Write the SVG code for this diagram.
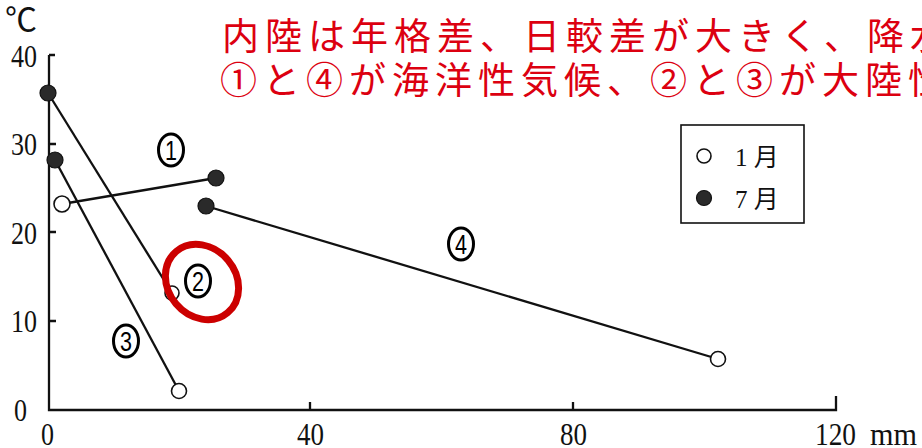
<svg xmlns="http://www.w3.org/2000/svg" width="922" height="448" viewBox="0 0 922 448">
<style>
.ax{font-family:"Liberation Serif","Noto Sans CJK JP",serif;font-size:32px;fill:#111}
.red{font-family:"Noto Sans CJK JP","Noto Sans CJK SC",sans-serif;font-size:37px;fill:#dc0010;letter-spacing:6px}
.oval{fill:#fff;stroke:#000;stroke-width:3}
.dig{font-family:"Liberation Sans","DejaVu Sans",sans-serif;font-size:27px;fill:#000;text-anchor:middle}
.leg{font-family:"Liberation Serif","Noto Sans CJK JP",serif;font-size:25px;fill:#111}
.ln{stroke:#111;stroke-width:2.3;fill:none}
.open{fill:#fff;stroke:#111;stroke-width:1.6}
.fill{fill:#2a2a2a;stroke:#111;stroke-width:1.2}
</style>
<rect width="922" height="448" fill="#fff"/>
<g id="title">
<text class="red" x="222" y="50">内陸は年格差、日較差が大きく、降水</text>
<text class="red" x="220" y="94">①と④が海洋性気候、②と③が大陸性</text>
</g>
<g id="axes">
<path class="ln" d="M49 55 H55 M49 55 V410 H836 V396 M49 144 H56 M49 232 H56 M49 321 H56 M310 410 V402 M573 410 V402" stroke-width="2"/>
<text class="ax" x="5" y="31" font-size="26">℃</text>
<text class="ax" x="37" y="67" text-anchor="end" textLength="26" lengthAdjust="spacingAndGlyphs">40</text>
<text class="ax" x="37" y="155" text-anchor="end" textLength="26" lengthAdjust="spacingAndGlyphs">30</text>
<text class="ax" x="37" y="244" text-anchor="end" textLength="26" lengthAdjust="spacingAndGlyphs">20</text>
<text class="ax" x="37" y="332" text-anchor="end" textLength="26" lengthAdjust="spacingAndGlyphs">10</text>
<text class="ax" x="14" y="421" textLength="13" lengthAdjust="spacingAndGlyphs">0</text>
<text class="ax" x="41" y="445" textLength="13" lengthAdjust="spacingAndGlyphs">0</text>
<text class="ax" x="297" y="445" textLength="27" lengthAdjust="spacingAndGlyphs">40</text>
<text class="ax" x="560" y="445" textLength="27" lengthAdjust="spacingAndGlyphs">80</text>
<text class="ax" x="815" y="445" textLength="41" lengthAdjust="spacingAndGlyphs">120</text>
<text class="ax" x="870" y="445" textLength="47" lengthAdjust="spacingAndGlyphs">mm</text>
</g>
<g id="connectors">
<line class="ln" x1="62" y1="204" x2="216" y2="178"/>
<line class="ln" x1="48" y1="93" x2="172" y2="293"/>
<line class="ln" x1="55" y1="160" x2="179" y2="391"/>
<line class="ln" x1="206" y1="206" x2="718" y2="359"/>
</g>
<g id="series1">
<circle class="open" cx="62" cy="204" r="8"/>
<circle class="fill" cx="216" cy="178" r="8"/>
<ellipse class="oval" cx="171" cy="150" rx="12.5" ry="16"/>
<text class="dig" x="171" y="160" textLength="12" lengthAdjust="spacingAndGlyphs">1</text>
</g>
<g id="series2">
<circle class="fill" cx="48" cy="93" r="8"/>
<circle class="open" cx="172" cy="293" r="7"/>
<ellipse class="oval" cx="198" cy="281" rx="12.5" ry="16"/>
<text class="dig" x="198" y="291" textLength="12" lengthAdjust="spacingAndGlyphs">2</text>
</g>
<g id="series3">
<circle class="fill" cx="55" cy="160" r="8"/>
<circle class="open" cx="179" cy="391" r="7.5"/>
<ellipse class="oval" cx="126" cy="341" rx="12.5" ry="16"/>
<text class="dig" x="126" y="351" textLength="12" lengthAdjust="spacingAndGlyphs">3</text>
</g>
<g id="series4">
<circle class="fill" cx="206" cy="206" r="8"/>
<circle class="open" cx="718" cy="359" r="7.5"/>
<ellipse class="oval" cx="461" cy="244" rx="12.5" ry="16"/>
<text class="dig" x="461" y="254" textLength="12" lengthAdjust="spacingAndGlyphs">4</text>
</g>
<g id="highlight">
<ellipse cx="202" cy="282" rx="40" ry="34" transform="rotate(50 202 282)" fill="none" stroke="#cc0000" stroke-width="7"/>
</g>
<g id="legend">
<rect x="681" y="125" width="123" height="98" fill="#fff" stroke="#111" stroke-width="1.6"/>
<circle class="open" cx="704" cy="156" r="7"/>
<circle class="fill" cx="704" cy="198" r="7.5"/>
<text class="leg" x="735" y="166">1 月</text>
<text class="leg" x="735" y="208">7 月</text>
</g>
</svg>
